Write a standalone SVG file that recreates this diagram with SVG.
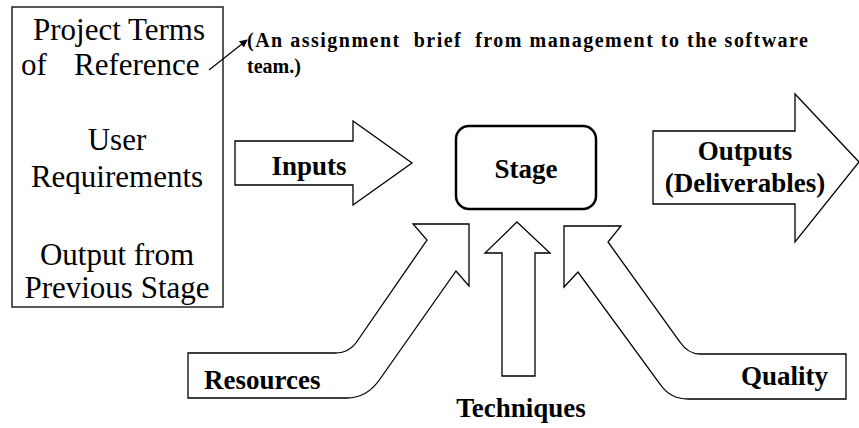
<svg xmlns="http://www.w3.org/2000/svg" width="859" height="428" viewBox="0 0 859 428">
<defs>
<style>
.shape{fill:#fff;stroke:#000;stroke-width:1.3;stroke-linejoin:miter}
text{font-family:'Liberation Serif','Tinos','Times New Roman','Times','Nimbus Roman','DejaVu Serif','Noto Serif',serif;fill:#000}
.plain{font-size:31px}
.bold{font-size:27px;font-weight:bold}
.note{font-size:20px;font-weight:bold}
</style>
<marker id="ah" viewBox="0 0 10 10" refX="9" refY="5" markerWidth="8" markerHeight="8" orient="auto" markerUnits="userSpaceOnUse">
<path d="M0,0 L10,5 L0,10 Z" fill="#000"/>
</marker>
</defs>
<rect width="859" height="428" fill="#fff"/>
<g id="inputs-box">
<rect x="12" y="7" width="211" height="300" fill="#fff" stroke="#222" stroke-width="1.5"/>
<text class="plain" x="119" y="40" font-size="30" text-anchor="middle">Project Terms</text>
<text class="plain" y="75" font-size="30"><tspan x="21">of</tspan><tspan x="74">Reference</tspan></text>
<text class="plain" x="117" y="150" text-anchor="middle">User</text>
<text class="plain" x="117" y="187" text-anchor="middle">Requirements</text>
<text class="plain" x="117" y="265" text-anchor="middle">Output from</text>
<text class="plain" x="117" y="298" text-anchor="middle">Previous Stage</text>
</g>
<g id="note">
<text class="note" x="247" y="47" textLength="561" lengthAdjust="spacing" xml:space="preserve">(An assignment  brief  from management to the software</text>
<text class="note" x="247" y="73">team.)</text>
</g>
<g id="stage">
<rect x="456" y="126" width="140" height="83" rx="13" ry="13" fill="#fff" stroke="#000" stroke-width="2.5"/>
<text class="bold" x="526" y="178" text-anchor="middle">Stage</text>
</g>
<g id="inputs-arrow">
<path class="shape" d="M235,141 L353,141 L353,121 L412,163 L353,205 L353,185 L235,185 Z"/>
<text class="bold" x="309" y="175" text-anchor="middle">Inputs</text>
</g>
<g id="outputs-arrow">
<path class="shape" d="M653,131 L795,131 L795,94 L859,162 L795,242 L795,204 L653,204 Z"/>
<text class="bold" x="745" y="160" text-anchor="middle">Outputs</text>
<text class="bold" x="745" y="192" text-anchor="middle">(Deliverables)</text>
</g>
<g id="resources-arrow">
<path class="shape" d="M188,353 L335,353 Q350,353 358,340 L427,240 L413,224 L469,224 L469,286 L456,271 L380,379 Q367,398 347,398 L188,398 Z"/>
<text class="bold" x="204" y="389">Resources</text>
</g>
<g id="techniques-arrow">
<path class="shape" d="M517,222 L550,253 L535,253 L535,376 L502,376 L502,253 L485,253 Z"/>
<text class="bold" x="521" y="417" text-anchor="middle">Techniques</text>
</g>
<g id="quality-arrow">
<path class="shape" d="M564,226 L621,226 L608,242 L680,342 Q688,354 700,354 L846,354 L846,399 L688,399 Q670,399 660,384 L578,272 L564,287 Z"/>
<text class="bold" x="828" y="385" text-anchor="end">Quality</text>
</g>
<g id="connectors">
<line x1="209" y1="70" x2="247" y2="40" stroke="#000" stroke-width="1.2" marker-end="url(#ah)"/>
</g>
</svg>
